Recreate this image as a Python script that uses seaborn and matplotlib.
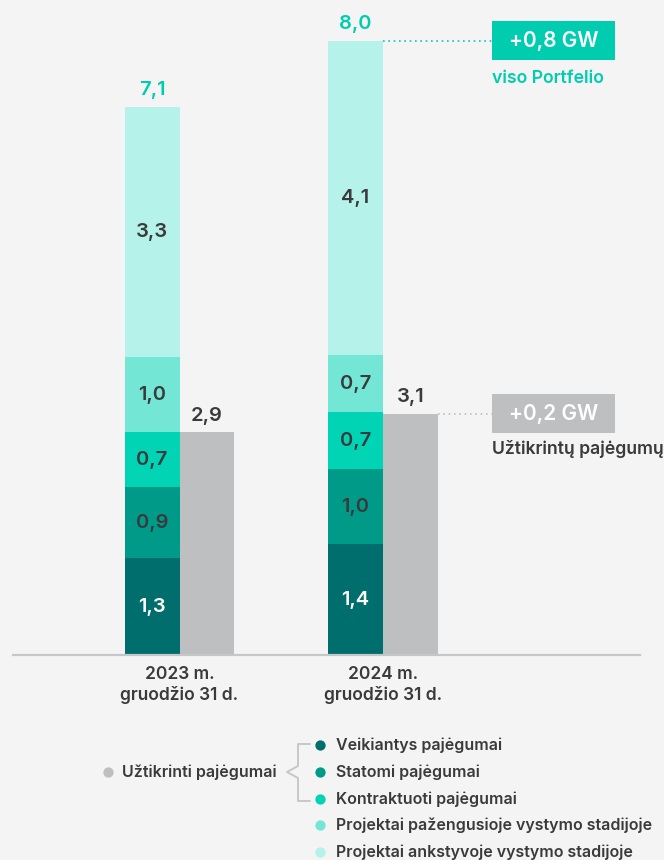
import seaborn as sns
import matplotlib.pyplot as plt
import pandas as pd
import numpy as np
from matplotlib.patches import Rectangle
from matplotlib.lines import Line2D

# Data (GW)
years = ["2023 m.\ngruodžio 31 d.", "2024 m.\ngruodžio 31 d."]
segments = [
    "Veikiantys pajėgumai",
    "Statomi pajėgumai",
    "Kontraktuoti pajėgumai",
    "Projektai pažengusioje vystymo stadijoje",
    "Projektai ankstyvoje vystymo stadijoje",
]
seg_2023 = [1.26, 0.93, 0.71, 0.98, 3.26]
seg_2024 = [1.44, 0.98, 0.74, 0.74, 4.10]
secured = [2.9, 3.14]
secured_name = "Užtikrinti pajėgumai"
change_values = ["+0,8 GW", "+0,2 GW"]
change_notes = ["viso Portfelio", "Užtikrintų pajėgumų"]

colors = ["#006e6c", "#009a88", "#00d4b5", "#74e6d6", "#b5f2ea"]
gray = "#bebfc1"
teal_text = "#00cdb0"
dark = "#3a3a3c"
bg = "#f3f4f3"

sns.set_theme(style="white")
plt.rcParams["font.family"] = ["Inter", "DejaVu Sans"]
plt.rcParams["font.weight"] = "medium"

fig = plt.figure(figsize=(6.64, 8.6), dpi=100)
fig.patch.set_facecolor(bg)

# axis area in pixel terms: baseline at y=655, x from 13 to 640
ax = fig.add_axes([13 / 664, 205 / 860, 627 / 664, 655 / 860])
ax.set_facecolor(bg)

stack = np.array([seg_2023, seg_2024])
cum = np.cumsum(stack, axis=1)

# draw cumulative layers from top to bottom so they overlap as a stack
for k in range(len(segments) - 1, -1, -1):
    rows = [{"year": y, "value": cum[i, k], "kind": "stack"} for i, y in enumerate(years)]
    if k == len(segments) - 1:
        rows += [{"year": y, "value": secured[i], "kind": "secured"} for i, y in enumerate(years)]
    df = pd.DataFrame(rows)
    sns.barplot(
        data=df, x="year", y="value", hue="kind",
        order=years, hue_order=["stack", "secured"],
        palette={"stack": colors[k], "secured": gray},
        width=0.54, dodge=True, errorbar=None, legend=False,
        linewidth=0, saturation=1, ax=ax,
    )

px_x = 203.5  # pixels per category unit
px_y = 76.8   # pixels per GW
ax.set_xlim(-166.5 / px_x, 460.5 / px_x)
ax.set_ylim(0, 655 / px_y)
off = 0.135

# segment labels
for i in range(len(years)):
    bottoms = np.concatenate([[0], cum[i, :-1]])
    for k, v in enumerate(stack[i]):
        ax.text(i - off, bottoms[k] + v / 2, f"{v:.1f}".replace(".", ","),
                ha="center", va="center", fontsize=14.5, fontweight="semibold",
                color="white" if k == 0 else dark)
    ax.annotate(f"{cum[i, -1]:.1f}".replace(".", ","), (i - off, cum[i, -1]),
                xytext=(0, 12), textcoords="offset points", ha="center", va="center",
                fontsize=14.5, fontweight="semibold", color=teal_text)
    ax.annotate(f"{secured[i]:.1f}".replace(".", ","), (i + off, secured[i]),
                xytext=(0, 12), textcoords="offset points", ha="center", va="center",
                fontsize=14.5, fontweight="semibold", color=dark)

# change boxes to the right of 2024
box_l, box_r = (492 - 179.5) / px_x, (615 - 179.5) / px_x
half_h = 19.5 / px_y
for y0, x0, col, lab, note, dy in [
    (cum[1, -1], 1, teal_text, change_values[0], change_notes[0], 18),
    (secured[1], 1 + 2 * off, gray, change_values[1], change_notes[1], 16),
]:
    ax.plot([x0, box_l], [y0, y0], ls=(0, (1, 2.2)), lw=1.2, color=col, clip_on=False)
    ax.add_patch(Rectangle((box_l, y0 - half_h), box_r - box_l, 2 * half_h,
                           color=col, lw=0, clip_on=False))
    ax.text((box_l + box_r) / 2, y0, lab, ha="center", va="center",
            fontsize=15, fontweight="semibold", color="white")
    ax.text(box_l, y0 - half_h - dy / px_y, note, ha="left", va="center",
            fontsize=12.7, fontweight="semibold",
            color=teal_text if col == teal_text else dark)

ax.set_xticks(range(len(years)))
ax.set_xticklabels(years, fontsize=12.5, fontweight="semibold", color=dark, linespacing=1.2)
ax.tick_params(axis="x", length=0, pad=8)
ax.set_yticks([])
ax.set_xlabel("")
ax.set_ylabel("")
for s in ["top", "left", "right"]:
    ax.spines[s].set_visible(False)
ax.spines["bottom"].set_color("#c6c7c8")
ax.spines["bottom"].set_linewidth(1.6)

# legend drawn in pixel space
lg = fig.add_axes([0, 0, 1, 1])
lg.set_xlim(0, 664)
lg.set_ylim(860, 0)
lg.axis("off")
lg.patch.set_alpha(0)

lg.scatter([108], [772], s=55, color=gray, lw=0)
lg.text(122, 772, secured_name, ha="left", va="center", fontsize=11.5,
        fontweight="semibold", color=dark)
lg.add_line(Line2D([310, 298, 298, 287, 298, 298, 310],
                   [744, 744, 766, 772, 778, 801, 801], color="#c6c7c8", lw=1.4))
row_y = [745, 772, 799, 825, 852]
for k, name in enumerate(segments):
    lg.scatter([320], [row_y[k]], s=55, color=colors[k], lw=0)
    lg.text(336, row_y[k], name, ha="left", va="center", fontsize=11.5,
            fontweight="semibold", color=dark)

fig.savefig("out.png", dpi=100, facecolor=bg)
